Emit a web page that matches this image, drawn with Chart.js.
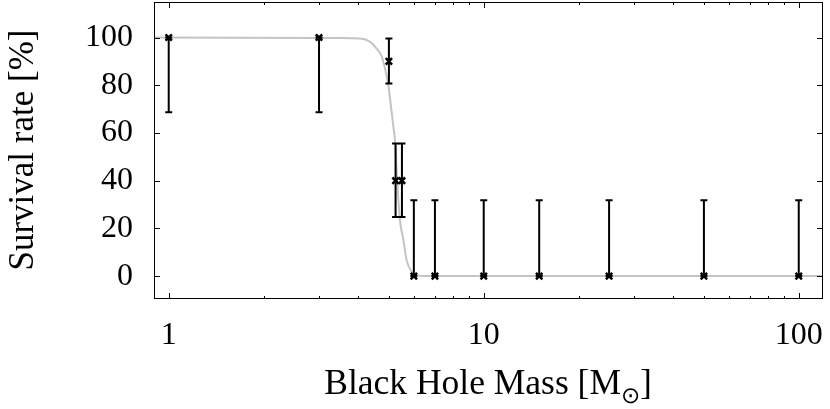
<!DOCTYPE html>
<html>
<head>
<meta charset="utf-8">
<script src="https://cdn.jsdelivr.net/npm/chart.js@4/dist/chart.umd.min.js"></script>
<style>
  html, body { margin: 0; padding: 0; background: #fff; }
</style>
</head>
<body>
<canvas id="chart" width="830" height="409"></canvas>
<script>
  // Points mesurés : masse du trou noir, taux de survie et barres d'erreur
  const massX    = [1, 3, 5, 5.25, 5.5, 6, 7, 10, 15, 25, 50, 100];
  const survival = [100, 100, 90, 40, 40, 0, 0, 0, 0, 0, 0, 0];
  const errLow   = [68.7, 68.7, 80.7, 24.8, 24.8, 0, 0, 0, 0, 0, 0, 0];
  const errHigh  = [100, 100, 99.6, 55.6, 55.6, 31.8, 31.8, 31.8, 31.8, 31.8, 31.8, 31.8];

  // Courbe d'ajustement
  const fitX = [0.9, 3.5, 4.05, 4.36, 4.57, 4.75, 4.86, 4.98, 5.07, 5.16, 5.23, 5.31, 5.42, 5.56, 5.69, 5.91, 6.13, 6.59, 119];
  const fitY = [100, 99.8, 99.6, 98.2, 95.4, 91.9, 87.0, 80.0, 71.6, 63.3, 56.3, 40.2, 23.5, 15.1, 6.7, 1.8, 0.4, 0, 0];

  // Graduations
  const xTicks = [1, 10, 100];
  const xMinor = [2, 3, 4, 5, 6, 7, 8, 9, 20, 30, 40, 50, 60, 70, 80, 90];
  const yTicks = [0, 20, 40, 60, 80, 100];

  const FONT = 'Liberation Serif, Times New Roman, serif';

  // pas de marge automatique autour des étiquettes
  function noPad(s) {
    s.paddingTop = s.paddingBottom = s.paddingLeft = s.paddingRight = 0;
  }

  const errorBars = {
    id: 'errorBars',
    afterDatasetsDraw(chart) {
      const { ctx, scales: { x, y } } = chart;
      ctx.save();
      ctx.strokeStyle = '#000';
      ctx.lineWidth = 2;
      massX.forEach((m, i) => {
        const px = x.getPixelForValue(m);
        const top = y.getPixelForValue(errHigh[i]);
        const bot = y.getPixelForValue(errLow[i]);
        ctx.beginPath();
        ctx.moveTo(px, top); ctx.lineTo(px, bot);
        ctx.moveTo(px - 3.5, top); ctx.lineTo(px + 3.5, top);
        ctx.moveTo(px - 3.5, bot); ctx.lineTo(px + 3.5, bot);
        ctx.stroke();
      });
      ctx.restore();
    }
  };

  // Cadre + graduations internes (style gnuplot)
  const frame = {
    id: 'frame',
    afterDraw(chart) {
      const { ctx, chartArea: a, scales: { x, y } } = chart;
      ctx.save();
      ctx.strokeStyle = '#000';
      ctx.lineWidth = 1;
      ctx.strokeRect(a.left + 0.5, a.top + 0.5, a.right - a.left - 1, a.bottom - a.top - 1);
      ctx.beginPath();
      const tickX = (v, len) => {
        const px = Math.round(x.getPixelForValue(v)) + 0.5;
        ctx.moveTo(px, a.bottom); ctx.lineTo(px, a.bottom - len);
        ctx.moveTo(px, a.top); ctx.lineTo(px, a.top + len);
      };
      xTicks.forEach(v => tickX(v, 6));
      xMinor.forEach(v => tickX(v, 3));
      yTicks.forEach(v => {
        const py = Math.round(y.getPixelForValue(v)) + 0.5;
        ctx.moveTo(a.left, py); ctx.lineTo(a.left + 6, py);
        ctx.moveTo(a.right, py); ctx.lineTo(a.right - 6, py);
      });
      ctx.stroke();

      // Titres des axes
      ctx.fillStyle = '#000';
      ctx.textBaseline = 'alphabetic';
      const big = `35.5px ${FONT}`, small = `23px ${FONT}`;
      const t1 = 'Black Hole Mass [M', sub = '\u2299', t3 = ']';
      ctx.font = big;
      const w1 = ctx.measureText(t1).width;
      const w3 = ctx.measureText(t3).width;
      ctx.font = small;
      const w2 = ctx.measureText(sub).width;
      const sx = 488 - (w1 + w2 + w3) / 2;
      const base = 394;
      ctx.font = big;
      ctx.fillText(t1, sx, base);
      ctx.fillText(t3, sx + w1 + w2, base);
      ctx.font = small;
      ctx.fillText(sub, sx + w1, base + 9);

      ctx.font = `35px ${FONT}`;
      ctx.translate(24, 150);
      ctx.rotate(-Math.PI / 2);
      ctx.textAlign = 'center';
      ctx.textBaseline = 'middle';
      ctx.fillText('Survival rate [%]', 0, 0);
      ctx.restore();
    }
  };

  new Chart(document.getElementById('chart'), {
    type: 'scatter',
    data: {
      datasets: [
        {
          label: 'fit',
          type: 'line',
          data: fitX.map((v, i) => ({ x: v, y: fitY[i] })),
          borderColor: '#c4c4c4',
          borderWidth: 2,
          pointRadius: 0,
          cubicInterpolationMode: 'monotone',
          fill: false,
          order: 2
        },
        {
          label: 'survie',
          data: massX.map((v, i) => ({ x: v, y: survival[i] })),
          pointStyle: 'crossRot',
          pointRadius: 4.5,
          borderColor: '#000',
          backgroundColor: '#000',
          borderWidth: 2.5,
          order: 1
        }
      ]
    },
    options: {
      responsive: false,
      animation: false,
      layout: { autoPadding: false, padding: { top: 2, right: 7, left: 0, bottom: 0 } },
      plugins: { legend: { display: false }, tooltip: { enabled: false } },
      scales: {
        x: {
          type: 'logarithmic',
          min: 0.898,
          max: 119.4,
          afterBuildTicks: s => { s.ticks = xTicks.map(v => ({ value: v })); },
          afterFit: s => { s.height = 110; noPad(s); },
          grid: { display: false, drawTicks: false },
          border: { display: false },
          ticks: {
            autoSkip: false, maxRotation: 0, padding: 17,
            color: '#000', font: { family: FONT, size: 32 },
            callback: v => String(v)
          }
        },
        y: {
          min: -9.6,
          max: 114.9,
          afterBuildTicks: s => { s.ticks = yTicks.map(v => ({ value: v })); },
          afterFit: s => { s.width = 154; noPad(s); },
          grid: { display: false, drawTicks: false },
          border: { display: false },
          ticks: {
            padding: 21, color: '#000', font: { family: FONT, size: 32 },
            callback: v => String(v)
          }
        }
      }
    },
    plugins: [errorBars, frame]
  });
</script>
</body>
</html>
